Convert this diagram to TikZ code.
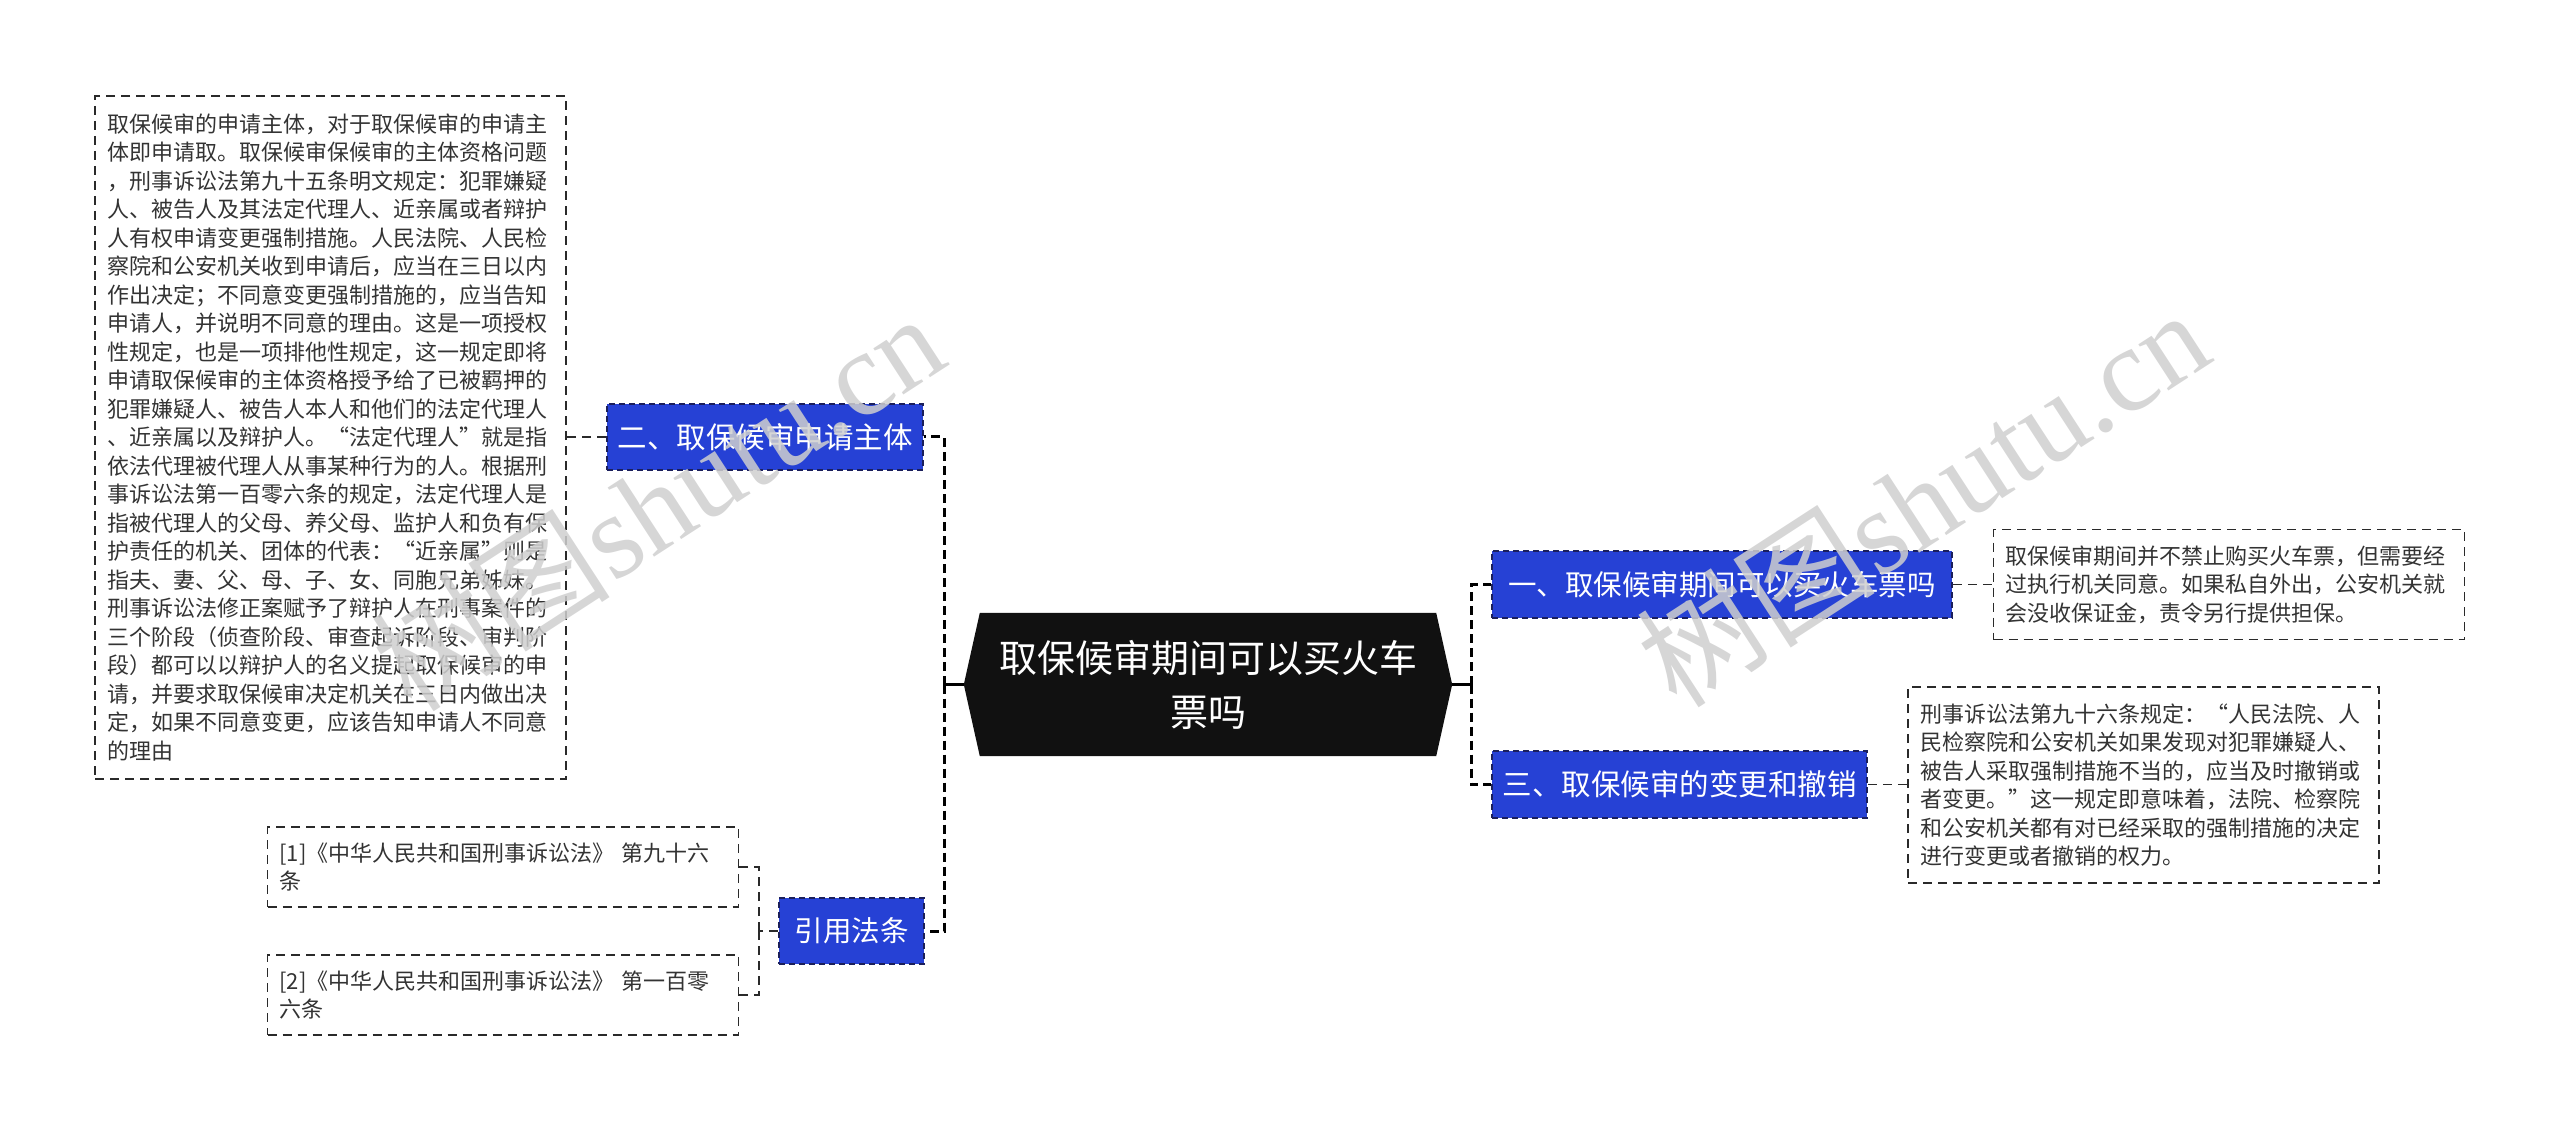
\documentclass[tikz,border=0pt]{standalone}
\usepackage{fontspec}
\newfontfamily\cjk{Noto Sans CJK SC}
\newfontfamily\wmserif{Liberation Serif}
\usetikzlibrary{calc,backgrounds}
\definecolor{nodeblue}{HTML}{2641D5}
\definecolor{navy}{HTML}{1B1F5C}
\definecolor{rootblack}{HTML}{111111}
\definecolor{txtgray}{HTML}{333333}
\definecolor{linegray}{HTML}{2A2A2A}
\definecolor{wmgray}{HTML}{CFCFCF}
\begin{document}
\begin{tikzpicture}[x=1pt,y=-1pt,
  txtbox/.style={draw=linegray, line width=1.8pt, dash pattern=on 9pt off 6pt,
    text=txtgray, font=\cjk\fontsize{22}{28.5}\selectfont, align=left,
    text width=447pt, inner xsep=12pt, inner ysep=2pt, minimum width=471pt},
  bluebox/.style={draw=navy, line width=1.8pt, dash pattern=on 6pt off 4pt,
    fill=nodeblue, text=white, inner sep=0pt},
  spine/.style={draw=black, line width=3pt, dash pattern=on 9pt off 5pt},
  stub/.style={draw=black, line width=3pt},
  thinline/.style={draw=linegray, line width=1.8pt, dash pattern=on 9pt off 6pt},
  wm/.style={text=wmgray, opacity=0.85, rotate=33, inner sep=0pt,
    font=\fontsize{120}{120}\selectfont}
]
\useasboundingbox (0,0) rectangle (2560,1131);

% left detail box
\node[txtbox, minimum height=683pt] (t2) at (330.5,437.5) {取保候审的申请主体，对于取保候审的申请主\\
体即申请取。取保候审保候审的主体资格问题\\
，刑事诉讼法第九十五条明文规定：犯罪嫌疑\\
人、被告人及其法定代理人、近亲属或者辩护\\
人有权申请变更强制措施。人民法院、人民检\\
察院和公安机关收到申请后，应当在三日以内\\
作出决定；不同意变更强制措施的，应当告知\\
申请人，并说明不同意的理由。这是一项授权\\
性规定，也是一项排他性规定，这一规定即将\\
申请取保候审的主体资格授予给了已被羁押的\\
犯罪嫌疑人、被告人本人和他们的法定代理人\\
、近亲属以及辩护人。“法定代理人”就是指\\
依法代理被代理人从事某种行为的人。根据刑\\
事诉讼法第一百零六条的规定，法定代理人是\\
指被代理人的父母、养父母、监护人和负有保\\
护责任的机关、团体的代表：“近亲属”则是\\
指夫、妻、父、母、子、女、同胞兄弟姊妹。\\
刑事诉讼法修正案赋予了辩护人在刑事案件的\\
三个阶段（侦查阶段、审查起诉阶段、审判阶\\
段）都可以以辩护人的名义提起取保候审的申\\
请，并要求取保候审决定机关在三日内做出决\\
定，如果不同意变更，应该告知申请人不同意\\
的理由};

\node[bluebox, minimum width=316pt, minimum height=66pt,
  font=\cjk\fontsize{29.5}{29.5}\selectfont] (n2) at (765,437) {二、取保候审申请主体};
\node[bluebox, minimum width=145pt, minimum height=66pt,
  font=\cjk\fontsize{28.5}{28.5}\selectfont] (cite) at (851.5,931) {引用法条};

\node[txtbox, minimum height=80pt] (r1) at (503,867) {[1]《中华人民共和国刑事诉讼法》 第九十六\\条};
\node[txtbox, minimum height=80pt] (r2) at (503,995) {[2]《中华人民共和国刑事诉讼法》 第一百零\\六条};

% root
\node[minimum width=488pt, minimum height=143pt, inner sep=0pt, text=white,
  align=center, font=\cjk\fontsize{38}{54}\selectfont] (root) at (1208,684.5)
  {取保候审期间可以买火车\\票吗};
\begin{scope}[on background layer]
\fill[rootblack] (root.west) -- ([xshift=16pt]root.north west) -- ([xshift=-16pt]root.north east)
  -- (root.east) -- ([xshift=-16pt]root.south east) -- ([xshift=16pt]root.south west) -- cycle;
\end{scope}

% right side
\node[bluebox, minimum width=460pt, minimum height=67pt,
  font=\cjk\fontsize{28.5}{28.5}\selectfont] (n1) at (1722,584.5) {一、取保候审期间可以买火车票吗};
\node[bluebox, minimum width=375pt, minimum height=67pt,
  font=\cjk\fontsize{29.5}{29.5}\selectfont] (n3) at (1679.5,784.5) {三、取保候审的变更和撤销};

\node[txtbox, minimum height=110pt] (t1) at (2229,584.5) {取保候审期间并不禁止购买火车票，但需要经\\
过执行机关同意。如果私自外出，公安机关就\\
会没收保证金，责令另行提供担保。};
\node[txtbox, minimum height=196pt] (t3) at (2143.5,785) {刑事诉讼法第九十六条规定：“人民法院、人\\
民检察院和公安机关如果发现对犯罪嫌疑人、\\
被告人采取强制措施不当的，应当及时撤销或\\
者变更。”这一规定即意味着，法院、检察院\\
和公安机关都有对已经采取的强制措施的决定\\
进行变更或者撤销的权力。};

% connectors
\coordinate (ls) at (944,684.5);
\coordinate (rs) at (1471,684.5);
\coordinate (cs) at (759,931);
\draw[stub] (root.west) -- (ls);
\draw[spine] (ls) |- (n2.east);
\draw[spine] (ls) |- (cite.east);
\draw[stub] (root.east) -- (rs);
\draw[spine] (rs) |- (n1.west);
\draw[spine] (rs) |- (n3.west);
\draw[thinline] (n2.west) -- (t2.east |- n2.west);
\draw[thinline] (n1.east) -- (t1.west);
\draw[thinline] (n3.east) -- (t3.west |- n3.east);
\draw[thinline] (cite.west) -- (cs);
\draw[thinline] (cs) |- (r1.east);
\draw[thinline] (cs) |- (r2.east);

% watermarks
\node[wm] (wm1) at (657,501) {{\cjk 树图}{\wmserif shutu.cn}};
\node[wm] (wm2) at (1922,497) {{\cjk 树图}{\wmserif shutu.cn}};
\end{tikzpicture}
\end{document}
